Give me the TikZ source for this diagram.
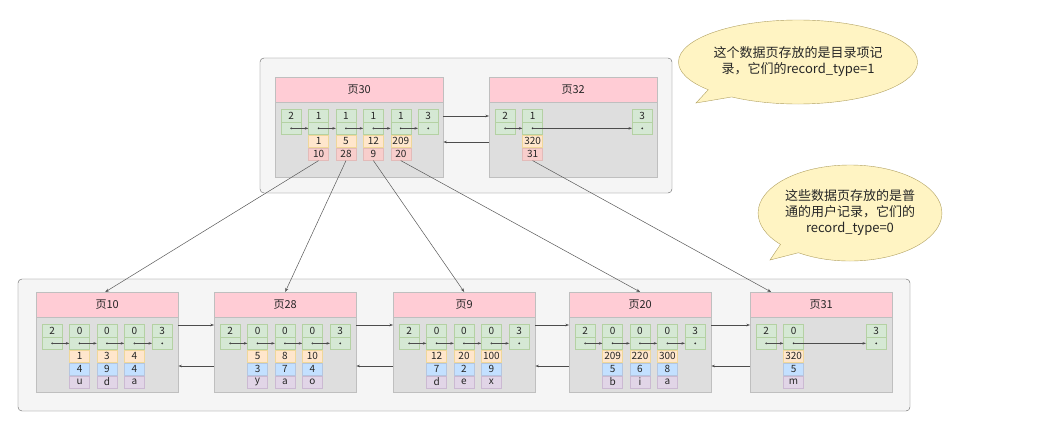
\documentclass[tikz,border=0pt]{standalone}
\usepackage{fontspec}
\setmainfont{Noto Sans CJK SC}
\usetikzlibrary{arrows.meta,shapes.callouts,calc}
\definecolor{gF}{HTML}{D5E8D4}\definecolor{gD}{HTML}{82B366}
\definecolor{oF}{HTML}{FFE6CC}\definecolor{oD}{HTML}{D79B00}
\definecolor{rF}{HTML}{F8CECC}\definecolor{rD}{HTML}{B85450}
\definecolor{bF}{HTML}{C3E0FF}\definecolor{bD}{HTML}{6C8EBF}
\definecolor{vF}{HTML}{E1D5E7}\definecolor{vD}{HTML}{9673A6}
\definecolor{hF}{HTML}{FFCCD5}\definecolor{yF}{HTML}{FFF4C3}\definecolor{yD}{HTML}{B0A060}
\tikzset{
 cellb/.style={minimum width=20pt,minimum height=12.5pt,inner sep=0pt,font=\fontsize{10}{10}\selectfont,text=black!85},
 gc/.style={cellb,fill=gF,draw=gD!60},
 oc/.style={cellb,fill=oF,draw=oD!40},
 rc/.style={cellb,fill=rF,draw=rD!40},
 bc/.style={cellb,fill=bF,draw=bD!50},
 vc/.style={cellb,fill=vF,draw=vD!50},
 hdr/.style={fill=hF,draw=black!25,minimum height=25pt,inner sep=0pt,font=\fontsize{11}{11}\selectfont,text=black!85,anchor=north west},
 body/.style={fill=black!13,draw=black!25,minimum height=75pt,inner sep=0pt,anchor=north},
 outer/.style={fill=black!4,draw=black!60,rounded corners=4pt},
 ptr/.style={draw=black!70,line width=0.5pt,-{Stealth[length=3.5pt,width=2.5pt]}},
 lnk/.style={draw=black!65,line width=0.5pt,-{Stealth[length=4pt,width=3pt]}},
 callout/.style={ellipse callout,fill=yF,draw=yD,align=center,font=\fontsize{13}{16}\selectfont,text=black!85,inner sep=0pt}
}
% record: name x y label
\newcommand\rec[4]{\node[gc,anchor=north west] (#1t) at (#2,#3) {#4};
 \node[gc,anchor=north] (#1d) at (#1t.south) {};
 \fill[black!80] (#1d.center) circle (1pt);}
% page frame: name x y width title
\newcommand\pgf[5]{\node[hdr,minimum width=#4pt] (#1h) at (#2,#3) {#5};
 \node[body,minimum width=#4pt] (#1b) at (#1h.south) {};}
\begin{document}
\begin{tikzpicture}[x=1pt,y=-1pt]
\useasboundingbox (0,0) rectangle (1048,434);
\fill[white] (0,0) rectangle (1048,434);
\draw[outer] (260,58) rectangle (672,193);
\draw[outer] (18,279) rectangle (910,411);
% top pages
\newcommand\tpage[5]{% name x title list(a/b) lastidx
 \pgf{#1}{#2}{77}{168}{#3}
 \rec{#1r0}{#2+6}{109}{2}
 \foreach \a/\b [count=\i] in {#4}{
  \rec{#1r\i}{#2+6+27.4*\i}{109}{1}
  \node[oc,anchor=north] (#1r\i o) at (#1r\i d.south) {\a};
  \node[rc,anchor=north] (#1r\i p) at (#1r\i o.south) {\b};
  \pgfmathtruncatemacro\pp{\i-1}
  \draw[ptr] (#1r\pp d.center) -- (#1r\i d.west);
 }
 \rec{#1rE}{#2+143}{109}{3}
 \draw[ptr] (#1r#5d.center) -- (#1rEd.west);
}
\tpage{p30}{275}{页30}{1/10,5/28,12/9,209/20}{4}
\tpage{p32}{489}{页32}{320/31}{1}
\draw[ptr] (p30b.east |- 0,116) -- (p32b.west |- 0,116);
\draw[ptr] (p32b.west |- 0,142) -- (p30b.east |- 0,142);
% bottom pages
\newcommand\upage[5]{% name x title list(a/b/c) lastidx
 \pgf{#1}{#2}{292}{142}{#3}
 \rec{#1r0}{#2+6}{324}{2}
 \foreach \a/\b/\c [count=\i] in {#4}{
  \rec{#1r\i}{#2+6+27.4*\i}{324}{0}
  \node[oc,anchor=north] (#1r\i o) at (#1r\i d.south) {\a};
  \node[bc,anchor=north] (#1r\i q) at (#1r\i o.south) {\b};
  \node[vc,anchor=north] (#1r\i v) at (#1r\i q.south) {\c};
  \pgfmathtruncatemacro\pp{\i-1}
  \draw[ptr] (#1r\pp d.center) -- (#1r\i d.west);
 }
 \rec{#1rE}{#2+116}{324}{3}
 \draw[ptr] (#1r#5d.center) -- (#1rEd.west);
}
\upage{p10}{36}{页10}{1/4/u,3/9/d,4/4/a}{3}
\upage{p28}{214}{页28}{5/3/y,8/7/a,10/4/o}{3}
\upage{p9}{393}{页9}{12/7/d,20/2/e,100/9/x}{3}
\upage{p20}{569}{页20}{209/5/b,220/6/i,300/8/a}{3}
\upage{p31}{750}{页31}{320/5/m}{1}
\foreach \l/\r in {p10/p28,p28/p9,p9/p20,p20/p31}{
 \draw[ptr] (\l b.east |- 0,325) -- (\r b.west |- 0,325);
 \draw[ptr] (\r b.west |- 0,366) -- (\l b.east |- 0,366);
}
% links
\draw[lnk] (p30r1p.south) -- ([xshift=-2pt]p10h.north);
\draw[lnk] (p30r2p.south) -- (p28h.north);
\draw[lnk] (p30r3p.south) -- (p9h.north);
\draw[lnk] (p30r4p.south) -- (p20h.north);
\draw[lnk] (p32r1p.south) -- ([xshift=-50pt]p31h.north);
% callouts
\node[callout,minimum width=206pt,minimum height=84pt,callout absolute pointer={(696,103)}] (c1) at (798,62) {这个数据页存放的是目录项记\\录，它们的record\_type=1};
\node[callout,minimum width=164pt,minimum height=96pt,callout absolute pointer={(770,260)}] (c2) at (850,213) {这些数据页存放的是普\\通的用户记录，它们的\\record\_type=0};
\end{tikzpicture}
\end{document}
